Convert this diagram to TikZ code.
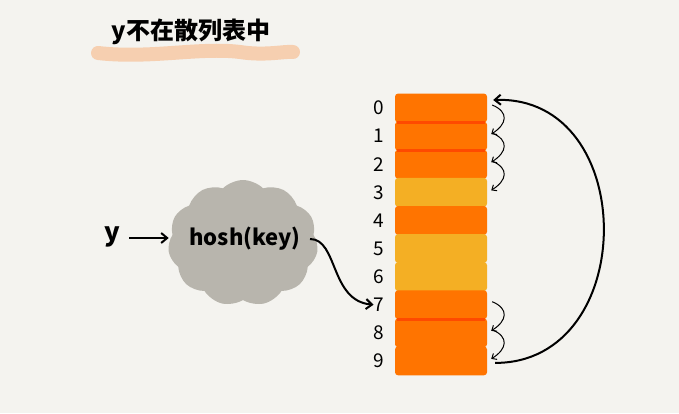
\documentclass[tikz,border=0pt]{standalone}
\usepackage{fontspec}
\setmainfont{Noto Sans CJK SC}
\usetikzlibrary{arrows.meta,shapes.symbols,calc}
\definecolor{bg}{HTML}{F4F3EF}
\definecolor{cellor}{HTML}{FF7400}
\definecolor{cellye}{HTML}{F4AF24}
\definecolor{divor}{HTML}{FF4A00}
\definecolor{cloudg}{HTML}{B8B5AD}
\definecolor{brush}{HTML}{F7C9A6}
\tikzset{
  cellbox/.style={rectangle,rounded corners=3pt,minimum width=92pt,minimum height=28.8pt,inner sep=0pt},
  idx/.style={font=\fontsize{19}{19}\selectfont,inner sep=0pt},
  hand/.style={line width=2pt,black,-{Straight Barb[length=6pt,width=10pt]}},
  smallarr/.style={line width=1pt,black,-{Straight Barb[length=4pt,width=7pt]}},
}
\begin{document}
\begin{tikzpicture}[x=1pt,y=1pt]
\fill[bg] (0,0) rectangle (679,413);
\useasboundingbox (0,0) rectangle (679,413);
% title brush
\draw[brush,line width=14pt,line cap=round,opacity=0.85]
  (98,360) .. controls (150,354) and (200,366) .. (240,361) .. controls (265,357) and (285,362) .. (293,361);
\node[font=\bfseries] (title) at (191,381) {\fontsize{24}{24}\selectfont y不在散列表中};
% cells
\foreach \i/\c in {0/cellor,1/cellor,2/cellor,3/cellye,4/cellor,5/cellye,6/cellye,7/cellor,8/cellor,9/cellor}{
  \node[cellbox,fill=\c] (c\i) at (441,{305-28.1*\i}) {};
  \node[idx] (l\i) at (379,{305-28.1*\i}) {\i};
}
% dividers
\foreach \i in {1,2,8}{
  \draw[divor,line width=3pt] ([shift={(2pt,-1pt)}]c\i.north west) -- ([shift={(-2pt,-1pt)}]c\i.north east);
}
% small arrows
\foreach \a/\b in {0/1,1/2,2/3,7/8,8/9}{
  \draw[smallarr] ([shift={(5pt,3pt)}]c\a.east) .. controls ([shift={(22pt,-4pt)}]c\a.east) and ([shift={(20pt,12pt)}]c\b.east) .. ([shift={(4pt,2pt)}]c\b.east);
}
% big arc
\draw[hand] ([shift={(8pt,-2pt)}]c9.east) .. controls (640,50) and (640,318) .. ([shift={(6pt,8pt)}]c0.east);
% cloud
\node[cloud,cloud puffs=11,cloud puff arc=90,aspect=1.2,fill=cloudg,minimum width=150pt,minimum height=126pt,inner sep=0pt] (cloud) at (243,170) {};
\node[font=\bfseries] (hash) at (245,174) {\fontsize{22}{22}\selectfont hosh(key)};
\node[font=\bfseries] (y) at (112,176) {\fontsize{26}{26}\selectfont y};
\draw[hand] (y.east) ++(6pt,-1pt) coordinate (ys) -- (ys -| cloud.west);
\draw[hand] ([xshift=6pt]hash.east) .. controls ([xshift=34pt]hash.east) and (330,112) .. (l7.west);
\end{tikzpicture}
\end{document}
